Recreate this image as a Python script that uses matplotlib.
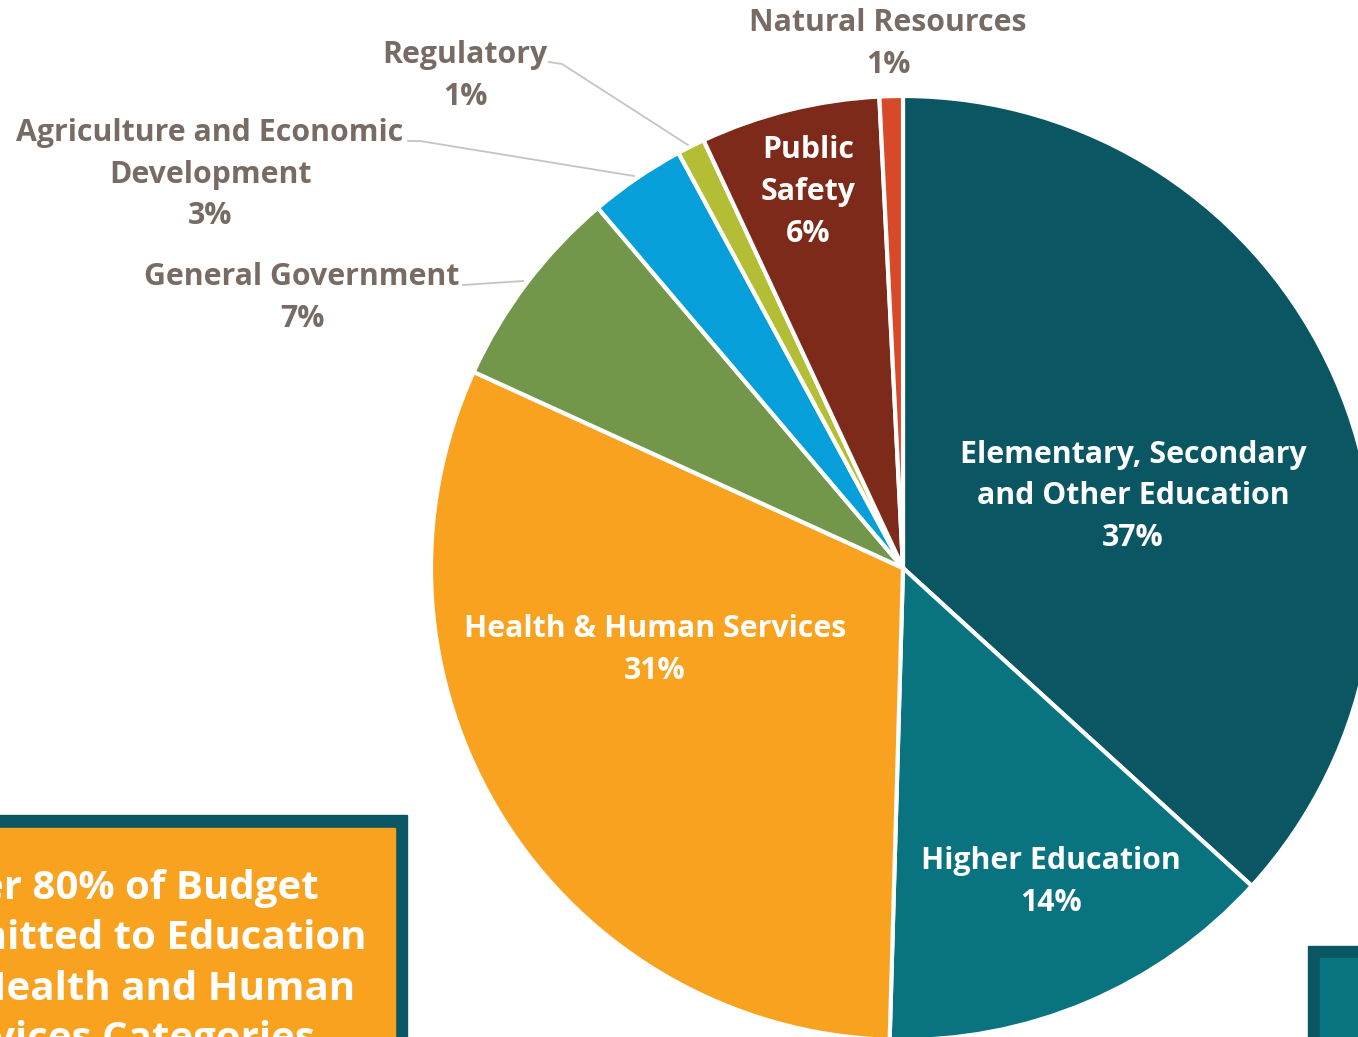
import matplotlib.pyplot as plt
from matplotlib.patches import Rectangle

###############################
# data
###############################
categories = ['Elementary, Secondary\nand Other Education', 'Higher Education',
              'Health & Human Services', 'General Government',
              'Agriculture and Economic\nDevelopment', 'Regulatory',
              'Public\nSafety', 'Natural Resources']
shares = [36.8, 13.7, 31.4, 7.0, 3.3, 0.95, 6.15, 0.8]
pct_labels = ['37%', '14%', '31%', '7%', '3%', '1%', '6%', '1%']
colors = ['#0a5662', '#0a7380', '#f8a21f', '#72974a', '#069fda', '#b3be35', '#7d2a1a', '#d8492a']

callout = 'Over 80% of Budget\nCommitted to Education\nand Health and Human\nServices Categories'

W, H = 1358, 1037
grey = '#776b63'
font = 'Open Sans'
lab_size = 21.8
lab_spacing = 1.5

fig = plt.figure(figsize=(W / 100, H / 100), dpi=100)
ax = fig.add_axes([0, 0, 1, 1])

# pie drawn in pixel coords, y axis pointing down
wedges, _ = ax.pie(shares, colors=colors, startangle=-90, counterclock=True,
                   center=(903, 568), radius=472,
                   wedgeprops=dict(edgecolor='white', linewidth=3))
ax.set_xlim(0, W)
ax.set_ylim(H, 0)
ax.set_aspect('equal')
ax.axis('off')

# inside labels
inside = {0: (1133, 496), 1: (1051, 882), 2: (655, 650), 6: (808, 192)}
for i, (x, y) in inside.items():
    ax.text(x, y, categories[i] + '\n' + pct_labels[i], ha='center', va='center',
            color='white', fontsize=lab_size, fontweight='bold', family=font,
            linespacing=lab_spacing)

# outside labels
outside = {7: (888, 44), 5: (465, 76), 4: (210, 175), 3: (302, 298)}
for i, (x, y) in outside.items():
    ax.text(x, y, categories[i] + '\n' + pct_labels[i], ha='center', va='center',
            color=grey, fontsize=lab_size, fontweight='bold', family=font,
            linespacing=lab_spacing)

# leader lines
ax.plot([549, 562, 688], [62, 64, 145], color='#c8c3bf', lw=1.3)
ax.plot([408, 420, 634], [141, 141, 176], color='#c8c3bf', lw=1.3)
ax.plot([463, 523], [285, 281], color='#c8c3bf', lw=1.3)

# callout boxes (cropped at the figure edges, as in the source)
ax.add_patch(Rectangle((-20, 815), 427, 260, color='#0a5662', zorder=3))
ax.add_patch(Rectangle((-20, 828), 415, 260, color='#f8a21f', zorder=4))
ax.text(366, 869, callout, ha='right', va='top', multialignment='center',
        color='white', fontsize=29, fontweight='bold', family=font,
        linespacing=1.38, zorder=5)

ax.add_patch(Rectangle((1308, 946), 80, 120, color='#0a5662', zorder=3))
ax.add_patch(Rectangle((1320, 958), 80, 120, color='#0a7380', zorder=4))

fig.savefig('out.png', dpi=100)
